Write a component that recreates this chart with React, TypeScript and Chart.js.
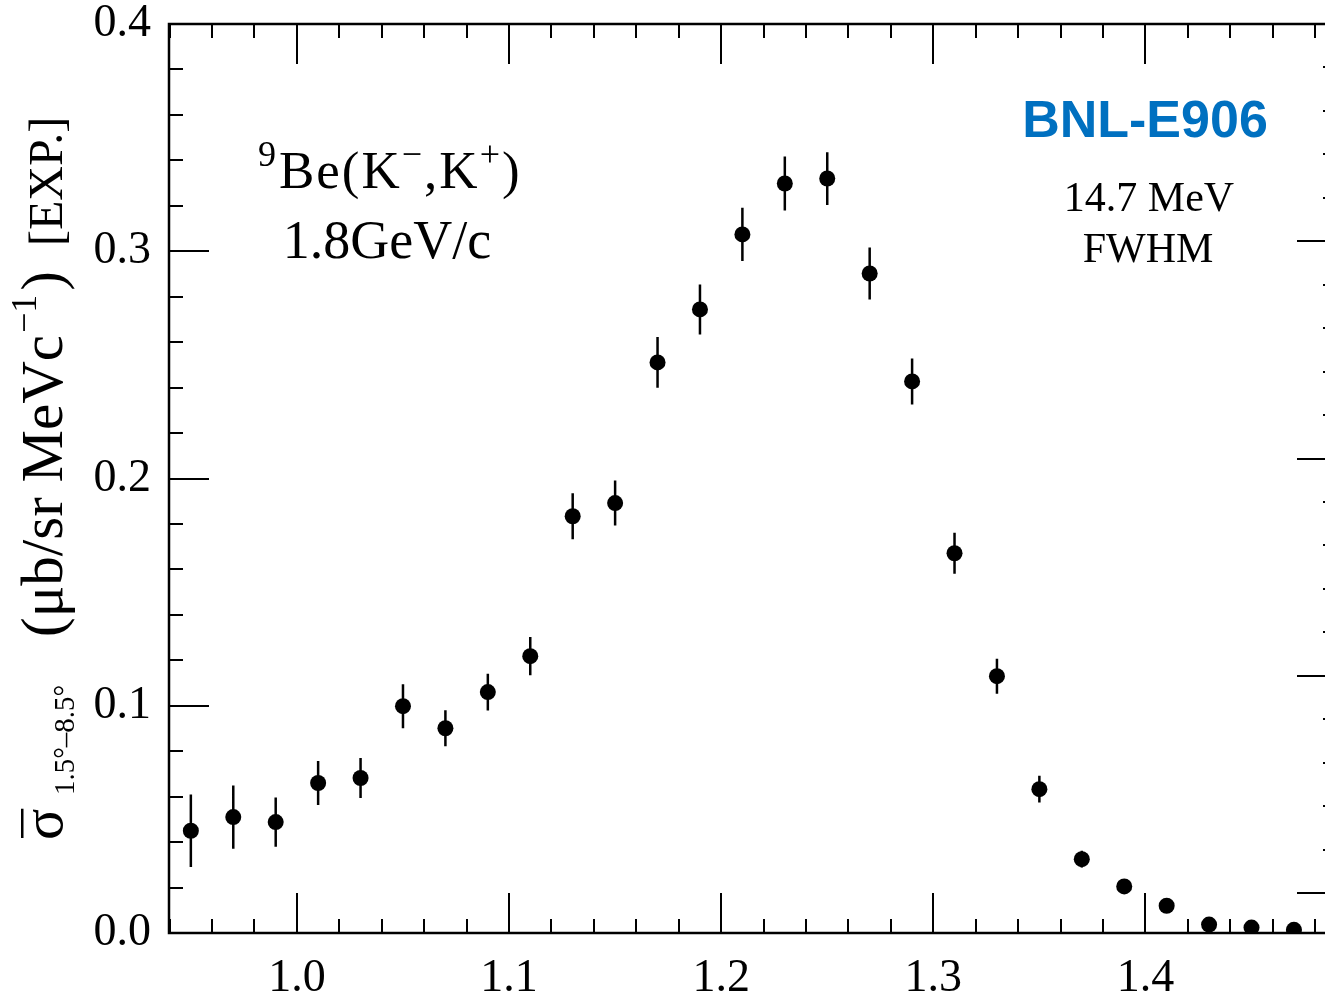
import React, { useEffect, useRef } from 'react';
import { Chart, registerables } from 'chart.js';

Chart.register(...registerables);

// ---- data ----
const ENERGY = [
  0.95, 0.97, 0.99, 1.01, 1.03, 1.05, 1.07, 1.09, 1.11, 1.13, 1.15, 1.17, 1.19, 1.21,
  1.23, 1.25, 1.27, 1.29, 1.31, 1.33, 1.35, 1.37, 1.39, 1.41, 1.43, 1.45, 1.47,
];
const SIGMA = [
  0.045, 0.051, 0.0488, 0.066, 0.0682, 0.0998, 0.0901, 0.106, 0.1218, 0.1834, 0.1892,
  0.2511, 0.2744, 0.3074, 0.3298, 0.332, 0.2902, 0.2427, 0.1671, 0.113, 0.0633, 0.0325,
  0.0205, 0.012, 0.0037, 0.0024, 0.0014,
];
const SIGMA_ERR = [
  0.016, 0.0139, 0.0108, 0.0097, 0.0088, 0.0097, 0.0079, 0.0081, 0.0084, 0.0101, 0.0099,
  0.0112, 0.011, 0.0117, 0.0119, 0.0116, 0.0114, 0.0101, 0.009, 0.0077, 0.0059, 0.0037,
  0.0018, 0.0013, 0.0008, 0.0007, 0.0006,
];
const X_TICKS = [1.0, 1.1, 1.2, 1.3, 1.4];
const Y_TICKS = [0.0, 0.1, 0.2, 0.3, 0.4];
const X_RANGE = [0.9397, 1.4903];
const Y_RANGE = [0, 0.4];
const X_MINOR_STEP = 0.02;
const Y_MINOR_STEP = 0.02;
// right-hand axis (unlabelled, different scale)
const R_RANGE = [0.816, 5];
const R_MAJOR = [1, 2, 3, 4, 5];
const R_MINOR_STEP = 0.2;

const SERIF = '"Liberation Serif", "Times New Roman", serif';

function rangeSteps(a: number, b: number, step: number): number[] {
  const out: number[] = [];
  const start = Math.ceil(a / step - 1e-6);
  const end = Math.floor(b / step + 1e-6);
  for (let i = start; i <= end; i++) out.push(+(i * step).toFixed(6));
  return out;
}
function isMajor(v: number, majors: number[]) {
  return majors.some((m) => Math.abs(m - v) < 1e-6);
}

const errorBarPlugin = {
  id: 'errorBars',
  beforeDatasetsDraw(chart: any) {
    const { ctx, scales } = chart;
    const x = scales.x, y = scales.y;
    ctx.save();
    ctx.strokeStyle = '#000';
    ctx.lineWidth = 2.5;
    ctx.beginPath();
    ENERGY.forEach((e, i) => {
      const px = x.getPixelForValue(e);
      ctx.moveTo(px, y.getPixelForValue(SIGMA[i] - SIGMA_ERR[i]));
      ctx.lineTo(px, y.getPixelForValue(SIGMA[i] + SIGMA_ERR[i]));
    });
    ctx.stroke();
    ctx.restore();
  },
};

const frameAndTicksPlugin = {
  id: 'frameTicks',
  afterDraw(chart: any) {
    const { ctx, chartArea: a, scales } = chart;
    const x = scales.x, y = scales.y, r = scales.y2;
    const MAJ = 40, MIN = 14;
    ctx.save();
    ctx.strokeStyle = '#000';
    ctx.lineWidth = 2;
    ctx.beginPath();
    for (const v of rangeSteps(X_RANGE[0], X_RANGE[1], X_MINOR_STEP)) {
      const px = Math.round(x.getPixelForValue(v));
      const len = isMajor(v, X_TICKS) ? MAJ : MIN;
      ctx.moveTo(px, a.bottom);
      ctx.lineTo(px, a.bottom - len);
      ctx.moveTo(px, a.top);
      ctx.lineTo(px, a.top + len);
    }
    for (const v of rangeSteps(Y_RANGE[0], Y_RANGE[1], Y_MINOR_STEP)) {
      const py = Math.round(y.getPixelForValue(v));
      const len = isMajor(v, Y_TICKS) ? MAJ : MIN;
      ctx.moveTo(a.left, py);
      ctx.lineTo(a.left + len, py);
    }
    for (const v of rangeSteps(R_RANGE[0], R_RANGE[1], R_MINOR_STEP)) {
      const py = Math.round(r.getPixelForValue(v));
      const len = isMajor(v, R_MAJOR) ? MAJ : MIN;
      ctx.moveTo(a.right, py);
      ctx.lineTo(a.right - len, py);
    }
    ctx.stroke();
    ctx.lineWidth = 2.5;
    ctx.strokeRect(a.left, a.top, a.right - a.left, a.bottom - a.top);
    ctx.restore();
  },
};

const textPlugin = {
  id: 'texts',
  afterDraw(chart: any) {
    const { ctx } = chart;
    ctx.save();
    ctx.fillStyle = '#000';
    ctx.textBaseline = 'alphabetic';

    // ---- y-axis title (rotated) ----
    ctx.save();
    ctx.translate(62, 842);
    ctx.rotate(-Math.PI / 2);
    ctx.textAlign = 'left';
    ctx.font = `58px ${SERIF}`;
    ctx.fillText('σ', 2, 0);
    const sw = ctx.measureText('σ').width;
    ctx.fillRect(4, -41, sw - 2, 2.5);
    ctx.font = `29px ${SERIF}`;
    ctx.fillText('1.5°–8.5°', 47, 12);
    ctx.font = `59px ${SERIF}`;
    ctx.fillText('(μb/sr MeVc', 205, 0);
    let px = 205 + ctx.measureText('(μb/sr MeVc').width;
    ctx.font = `36px ${SERIF}`;
    ctx.fillText('−1', px + 2, -26);
    px += 2 + ctx.measureText('−1').width + 4;
    ctx.font = `59px ${SERIF}`;
    ctx.fillText(')', px, 0);
    ctx.font = `48px ${SERIF}`;
    ctx.fillText('[EXP.]', 596, 0);
    ctx.restore();

    // ---- reaction label ----
    ctx.textAlign = 'left';
    (ctx as any).letterSpacing = '2px';
    let ax = 258;
    ctx.font = `36px ${SERIF}`;
    ctx.fillText('9', ax, 166);
    ax += ctx.measureText('9').width + 1;
    ctx.font = `53px ${SERIF}`;
    ctx.fillText('Be(K', ax, 188);
    ax += ctx.measureText('Be(K').width;
    ctx.font = `36px ${SERIF}`;
    ctx.fillText('−', ax, 166);
    ax += ctx.measureText('−').width;
    ctx.font = `53px ${SERIF}`;
    ctx.fillText(',K', ax, 188);
    ax += ctx.measureText(',K').width;
    ctx.font = `36px ${SERIF}`;
    ctx.fillText('+', ax, 166);
    ax += ctx.measureText('+').width;
    ctx.font = `53px ${SERIF}`;
    ctx.fillText(')', ax, 188);
    (ctx as any).letterSpacing = '0px';

    ctx.textAlign = 'center';
    ctx.font = `54px ${SERIF}`;
    ctx.fillText('1.8GeV/c', 387, 258);

    // ---- experiment label ----
    ctx.fillStyle = '#0070C0';
    ctx.font = 'bold 52px "Liberation Sans", Arial, sans-serif';
    ctx.fillText('BNL-E906', 1145, 137);
    ctx.fillStyle = '#000';
    ctx.font = '42px "Liberation Serif", "Times New Roman", serif';
    ctx.fillText('14.7 MeV', 1149, 211);
    ctx.fillText('FWHM', 1148, 262);
    ctx.restore();
  },
};

export default function App() {
  const ref = useRef<HTMLCanvasElement>(null);
  useEffect(() => {
    const canvas = ref.current;
    if (!canvas) return;
    const chart = new Chart(canvas, {
      type: 'scatter',
      data: {
        datasets: [
          {
            label: 'EXP',
            data: ENERGY.map((e, i) => ({ x: e, y: SIGMA[i] })),
            backgroundColor: '#000',
            borderColor: '#000',
            pointRadius: 8,
            pointBorderWidth: 0,
            showLine: false,
          },
        ],
      },
      options: {
        responsive: false,
        animation: false,
        devicePixelRatio: 1,
        layout: { padding: { top: 24, right: 8, left: 0, bottom: 0 } },
        plugins: { legend: { display: false }, tooltip: { enabled: false } },
        scales: {
          x: {
            type: 'linear',
            min: X_RANGE[0],
            max: X_RANGE[1],
            grid: { display: false, drawTicks: false },
            border: { display: false },
            afterBuildTicks: (s: any) => {
              s.ticks = X_TICKS.map((v) => ({ value: v }));
            },
            afterFit: (s: any) => {
              s.height = 59;
              s.paddingLeft = 0;
              s.paddingRight = 0;
            },
            ticks: {
              padding: 18,
              color: '#000',
              font: { family: SERIF, size: 46 },
              maxRotation: 0,
              callback: (v: any) => Number(v).toFixed(1),
            },
          },
          y: {
            type: 'linear',
            min: Y_RANGE[0],
            max: Y_RANGE[1],
            grid: { display: false, drawTicks: false },
            border: { display: false },
            afterBuildTicks: (s: any) => {
              s.ticks = Y_TICKS.map((v) => ({ value: v }));
            },
            afterFit: (s: any) => {
              s.width = 169;
              s.paddingTop = 0;
              s.paddingBottom = 0;
            },
            ticks: {
              padding: 18,
              color: '#000',
              font: { family: SERIF, size: 46 },
              callback: (v: any) => Number(v).toFixed(1),
            },
          },
          y2: {
            type: 'linear',
            position: 'right',
            display: false,
            min: R_RANGE[0],
            max: R_RANGE[1],
          },
        },
      },
      plugins: [errorBarPlugin, frameAndTicksPlugin, textPlugin],
    });
    return () => chart.destroy();
  }, []);
  return (
    <div
      style={{
        position: 'absolute',
        left: 0,
        top: 0,
        width: 1325,
        height: 992,
        overflow: 'hidden',
        background: '#fff',
      }}
    >
      <canvas ref={ref} width={1345} height={992} style={{ display: 'block' }} />
    </div>
  );
}
